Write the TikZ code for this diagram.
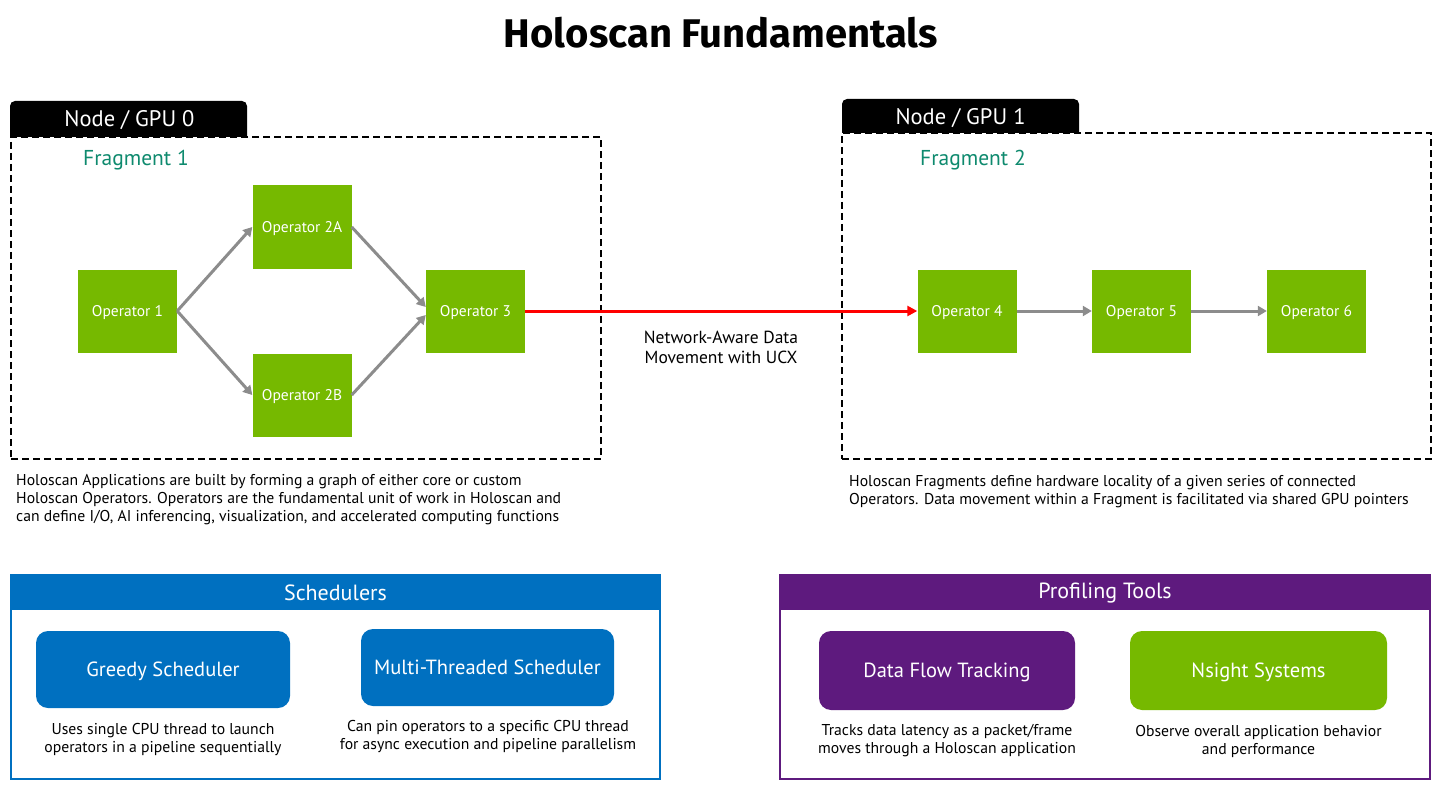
\documentclass[tikz,border=0pt]{standalone}
\usepackage{fontspec}
\setmainfont{PT Sans}
\newfontfamily\titlefont{Fira Sans}
\usetikzlibrary{arrows.meta}
\definecolor{nvgreen}{HTML}{76B900}
\definecolor{fragteal}{HTML}{0E8A6E}
\definecolor{schedblue}{HTML}{0070C0}
\definecolor{profpurple}{HTML}{5E1A7E}
\definecolor{arrowgray}{HTML}{8C8C8C}
\tikzset{
  op/.style={fill=nvgreen, text=white, minimum width=99pt, minimum height=83pt, inner sep=0pt, text depth=1pt, font=\fontsize{15.5}{18}\selectfont},
  flow/.style={draw=arrowgray, line width=3pt, -{Triangle[length=9pt,width=10pt]}},
  netflow/.style={draw=red, line width=3pt, -{Triangle[length=10pt,width=10pt]}},
  gpubox/.style={draw=black, line width=2pt, dash pattern=on 7pt off 4pt, inner sep=0pt},
  tablabel/.style={text=white, font=\fontsize{22.5}{26}\selectfont},
  fraglabel/.style={text=fragteal, font=\fontsize{21.5}{25}\selectfont, anchor=west, inner sep=0pt},
  desc/.style={align=left, anchor=west, inner sep=0pt, font=\fontsize{15.7}{18}\selectfont},
  cdesc/.style={align=center, inner sep=0pt, font=\fontsize{15.7}{18}\selectfont},
  panel/.style={line width=2pt, inner sep=0pt, minimum width=649pt, minimum height=204pt},
  panelhead/.style={text=white, font=\fontsize{22}{26}\selectfont},
  tool/.style={rounded corners=12pt, text=white, inner sep=0pt, text depth=1pt, font=\fontsize{20.5}{24}\selectfont}
}
\begin{document}
\begin{tikzpicture}[x=1pt,y=-1pt]
\useasboundingbox (0,0) rectangle (1439,786);
\fill[white] (0,0) rectangle (1439,786);

% title
\node[font=\titlefont\fontsize{40}{44}\selectfont\bfseries] (title) at (721,33) {Holoscan Fundamentals};

% GPU 0 region
\node[gpubox, minimum width=590pt, minimum height=322pt] (box0) at (306,298) {};
\fill[black] (10,137) [rounded corners=5pt] -- (10,101) -- (247,101) [sharp corners] -- (247,137) -- cycle;
\node[tablabel] (tab0) at (129.5,120) {Node / GPU 0};
\node[fraglabel] (frag1) at (83,160) {Fragment 1};

% GPU 1 region
\node[gpubox, minimum width=589pt, minimum height=326pt] (box1) at (1136.5,296) {};
\fill[black] (842,133) [rounded corners=5pt] -- (842,99) -- (1079,99) [sharp corners] -- (1079,133) -- cycle;
\node[tablabel] (tab1) at (960.5,118) {Node / GPU 1};
\node[fraglabel] (frag2) at (920,160) {Fragment 2};

% operators
\node[op] (op1) at (127.5,311) {Operator 1};
\node[op] (op2a) at (302,227) {Operator 2A};
\node[op] (op2b) at (302,395) {Operator 2B};
\node[op] (op3) at (475.5,311) {Operator 3};
\node[op] (op4) at (967,311) {Operator 4};
\node[op] (op5) at (1141.5,311) {Operator 5};
\node[op] (op6) at (1316.5,311) {Operator 6};

\draw[flow] (op1.east) -- (op2a.west);
\draw[flow] (op1.east) -- (op2b.west);
\draw[flow] (op2a.east) -- ([yshift=4pt]op3.west);
\draw[flow] (op2b.east) -- ([yshift=-4pt]op3.west);
\draw[flow] (op4.east) -- (op5.west);
\draw[flow] (op5.east) -- (op6.west);
\draw[netflow] (op3.east) -- (op4.west);
\node[cdesc, font=\fontsize{17.5}{20}\selectfont] (ucx) at (721,347) {Network-Aware Data\\Movement with UCX};

% descriptions
\node[desc] (desc0) at (16,500) {Holoscan Applications are built by forming a graph of either core or custom\\Holoscan Operators. Operators are the fundamental unit of work in Holoscan and\\can define I/O, AI inferencing, visualization, and accelerated computing functions};
\node[desc] (desc1) at (849,491.5) {Holoscan Fragments define hardware locality of a given series of connected\\Operators. Data movement within a Fragment is facilitated via shared GPU pointers};

% schedulers panel
\node[panel, draw=schedblue] (sched) at (335.5,677) {};
\fill[schedblue] (11,575) rectangle (660,610);
\node[panelhead] (schedhead) at (335.5,593) {Schedulers};
\node[tool, fill=schedblue, minimum width=254pt, minimum height=77pt] (greedy) at (163,669.5) {Greedy Scheduler};
\node[tool, fill=schedblue, minimum width=253pt, minimum height=77pt] (multi) at (487.5,667.5) {Multi-Threaded Scheduler};
\node[cdesc] (greedydesc) at (163,740) {Uses single CPU thread to launch\\operators in a pipeline sequentially};
\node[cdesc] (multidesc) at (488,737) {Can pin operators to a specific CPU thread\\for async execution and pipeline parallelism};

% profiling panel
\node[panel, draw=profpurple, minimum width=650pt] (prof) at (1105,677) {};
\fill[profpurple] (780,575) rectangle (1430,610);
\node[panelhead] (profhead) at (1105,593) {Profiling Tools};
\node[tool, fill=profpurple, minimum width=256pt, minimum height=79pt] (dft) at (947,670.5) {Data Flow Tracking};
\node[tool, fill=nvgreen, minimum width=257pt, minimum height=79pt] (nsight) at (1258.5,670.5) {Nsight Systems};
\node[cdesc] (dftdesc) at (947,741) {Tracks data latency as a packet/frame\\moves through a Holoscan application};
\node[cdesc] (nsightdesc) at (1258.5,741) {Observe overall application behavior\\and performance};
\end{tikzpicture}
\end{document}
